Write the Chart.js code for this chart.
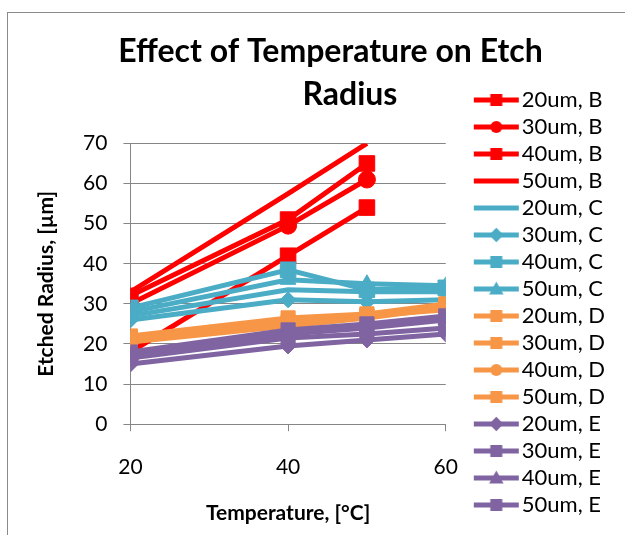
<!DOCTYPE html>
<html>
<head>
<meta charset="utf-8">
<script src="https://cdn.jsdelivr.net/npm/chart.js@4/dist/chart.umd.min.js"></script>
<style>
  html, body { margin: 0; padding: 0; background: #fff; overflow: hidden; }
  #frame { position: absolute; left: 7px; top: 12px; width: 630px; height: 540px;
           border-left: 1px solid #8a8a8a; border-top: 1px solid #8a8a8a; }
  #c { position: absolute; left: 8px; top: 13px; }
</style>
</head>
<body>
<div id="frame"></div>
<canvas id="c" width="617" height="522"></canvas>
<script>
// ---- data ----
const temperatures = [20, 40, 50, 60];
const seriesNames = ['20um, B','30um, B','40um, B','50um, B',
                     '20um, C','30um, C','40um, C','50um, C',
                     '20um, D','30um, D','40um, D','50um, D',
                     '20um, E','30um, E','40um, E','50um, E'];
const b20 = [18, 42, 54, null];
const b30 = [30, 49.5, 61, null];
const b40 = [32, 51, 65, null];
const b50 = [33, 57.5, 70, null];
const c20 = [27, 33.5, 33, 33];
const c30 = [26, 31, 30.5, 31];
const c40 = [29, 38.5, 33.5, 34];
const c50 = [28, 36, 35, 34.5];
const d20 = [22, 26.5, 27.5, 30];
const d30 = [21, 25, 27, 29.5];
const d40 = [20.5, 24.5, 26.5, 29];
const d50 = [21.5, 25.5, 27, 28.5];
const e20 = [15, 19.5, 21, 22.5];
const e30 = [18, 23.5, 25, 27];
const e40 = [17, 22.5, 24, 26];
const e50 = [16.5, 21.5, 22.5, 24];
const seriesValues = [b20, b30, b40, b50, c20, c30, c40, c50, d20, d30, d40, d50, e20, e30, e40, e50];
const yTickValues = [0, 10, 20, 30, 40, 50, 60, 70];
const xTickValues = [20, 40, 60];
const titleLines = ['Effect of Temperature on Etch', '     Radius'];

// ---- styles ----
const RED = '#FF0000', CYAN = '#4BACC6', ORANGE = '#F79646', PURPLE = '#8064A2';
const styles = [
  {color: RED, shape: 'rect', r: 11}, {color: RED, shape: 'circle', r: 8.5}, {color: RED, shape: 'rect', r: 11}, {color: RED, shape: false, r: 0},
  {color: CYAN, shape: false, r: 0}, {color: CYAN, shape: 'rectRot', r: 8}, {color: CYAN, shape: 'rect', r: 11}, {color: CYAN, shape: 'triangle', r: 9},
  {color: ORANGE, shape: 'rect', r: 10}, {color: ORANGE, shape: 'rect', r: 10}, {color: ORANGE, shape: 'circle', r: 7.5}, {color: ORANGE, shape: 'rect', r: 10},
  {color: PURPLE, shape: 'rectRot', r: 8}, {color: PURPLE, shape: 'rect', r: 10}, {color: PURPLE, shape: 'triangle', r: 9}, {color: PURPLE, shape: 'rect', r: 10}
];

function drawShape(ctx, shape, x, y, s) {
  ctx.beginPath();
  if (shape === 'rect') { ctx.rect(x - s, y - s, 2 * s, 2 * s); }
  else if (shape === 'circle') { ctx.arc(x, y, s, 0, Math.PI * 2); }
  else if (shape === 'rectRot') { ctx.moveTo(x, y - s * 1.2); ctx.lineTo(x + s * 1.2, y); ctx.lineTo(x, y + s * 1.2); ctx.lineTo(x - s * 1.2, y); ctx.closePath(); }
  else if (shape === 'triangle') { ctx.moveTo(x, y - s * 1.25); ctx.lineTo(x + s * 1.2, y + s * 0.9); ctx.lineTo(x - s * 1.2, y + s * 0.9); ctx.closePath(); }
  ctx.fill();
}

function makeSprite(st) {
  const cv = document.createElement('canvas');
  cv.width = 78; cv.height = 20;
  const g = cv.getContext('2d');
  g.strokeStyle = st.color; g.fillStyle = st.color; g.lineWidth = 5;
  g.beginPath(); g.moveTo(32, 10); g.lineTo(77, 10); g.stroke();
  if (st.shape) drawShape(g, st.shape, 54.5, 10, 6);
  return cv;
}

const datasets = seriesValues.map((vals, i) => ({
  label: seriesNames[i],
  data: temperatures.map((t, k) => ({x: t, y: vals[k]})),
  borderColor: styles[i].color,
  backgroundColor: styles[i].color,
  borderWidth: 5,
  pointStyle: styles[i].shape,
  pointRadius: styles[i].r,
  pointBorderWidth: 1,
  pointBorderColor: styles[i].color,
  pointBackgroundColor: styles[i].color,
  showLine: true,
  tension: 0,
  order: seriesValues.length - i
}));

const sprites = styles.map(makeSprite);
const FONT = 'Lato';

new Chart(document.getElementById('c'), {
  type: 'line',
  data: { datasets },
  options: {
    responsive: false,
    animation: false,
    layout: { padding: { left: 38, right: 10, top: 0, bottom: 14 } },
    plugins: {
      tooltip: { enabled: false },
      title: {
        display: true,
        text: titleLines,
        color: '#000',
        font: { family: FONT, size: 32, weight: 'bold', lineHeight: 1.35 },
        padding: { top: 17, bottom: 27 }
      },
      legend: {
        display: true,
        position: 'right',
        align: 'end',
        maxWidth: 300,
        labels: {
          usePointStyle: true,
          pointStyleWidth: 60,
          padding: 5,
          color: '#000',
          font: { family: FONT, size: 22 },
          generateLabels: (chart) => chart.data.datasets.map((ds, i) => ({
            text: ds.label,
            pointStyle: sprites[i],
            fillStyle: ds.borderColor,
            strokeStyle: ds.borderColor,
            lineWidth: 0,
            hidden: false,
            datasetIndex: i,
            fontColor: '#000'
          }))
        }
      }
    },
    scales: {
      x: {
        type: 'linear',
        min: 20, max: 60,
        afterBuildTicks: (axis) => { axis.ticks = xTickValues.map(v => ({value: v})); },
        grid: { drawOnChartArea: false, drawTicks: true, tickLength: 7, color: '#868686' },
        border: { display: true, color: '#868686', width: 1 },
        ticks: { color: '#000', padding: 23, font: { family: FONT, size: 21 } },
        title: { display: true, text: 'Temperature, [°C]', color: '#000',
                 font: { family: FONT, size: 21, weight: 'bold', lineHeight: 0.6 },
                 padding: { top: 5, bottom: 1 } }
      },
      y: {
        type: 'linear',
        min: 0, max: 70,
        afterBuildTicks: (axis) => { axis.ticks = yTickValues.map(v => ({value: v})); },
        grid: { color: '#868686', lineWidth: 1, tickLength: 7 },
        border: { display: true, color: '#868686', width: 1 },
        ticks: { color: '#000', padding: 16, font: { family: FONT, size: 21 } },
        title: { display: true, text: 'Etched Radius, [µm]', color: '#000',
                 font: { family: FONT, size: 21, weight: 'bold', lineHeight: 0.05 },
                 padding: { top: 0, bottom: 20 } }
      }
    }
  }
});
</script>
</body>
</html>
